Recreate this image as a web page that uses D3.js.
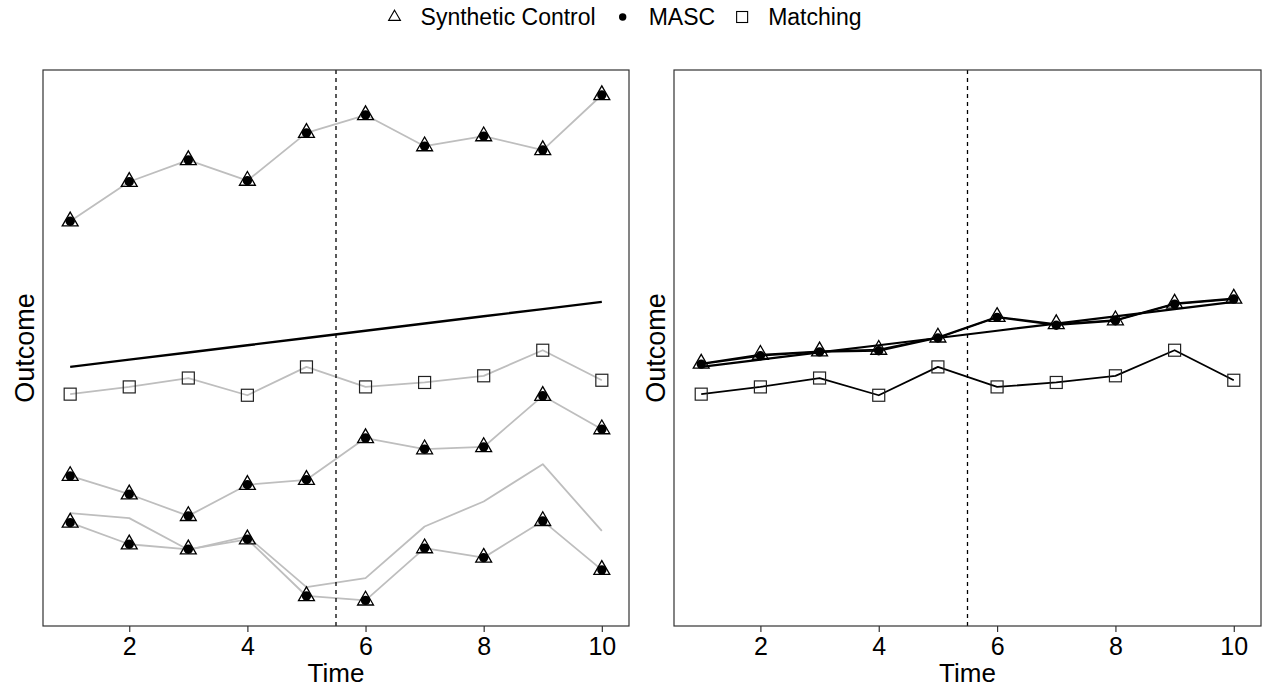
<!DOCTYPE html>
<html>
<head>
<meta charset="utf-8">
<script src="https://cdn.jsdelivr.net/npm/d3@7"></script>
<style>
  body { margin: 0; background: #fff; }
  text { font-family: "Liberation Sans", Arial, sans-serif; fill: #000; }
</style>
</head>
<body>
<svg id="chart" width="1268" height="688"></svg>
<script>
// time points
const times = [1, 2, 3, 4, 5, 6, 7, 8, 9, 10];
const xTicks = [2, 4, 6, 8, 10];
const treatTime = 5.5;

// left panel: treated unit and the control units
const treated = [46.6, 47.9, 49.2, 50.5, 51.8, 53.1, 54.4, 55.7, 57.0, 58.3];
const unitA = [72.8, 79.9, 83.8, 80.1, 88.7, 91.9, 86.3, 88.1, 85.6, 95.5];
const unitB = [27.0, 23.7, 19.8, 25.4, 26.3, 33.8, 31.8, 32.2, 41.4, 35.4];
const unitC = [18.6, 14.7, 13.8, 15.6, 5.4, 4.6, 14.0, 12.3, 18.9, 10.1];
const unitD = [20.3, 19.4, 13.7, 16.1, 7.0, 8.6, 17.9, 22.4, 29.1, 17.1];
const matchUnit = [41.7, 43.0, 44.6, 41.5, 46.6, 43.0, 43.8, 45.0, 49.6, 44.2];

// right panel: estimates
const scEst = [47.2, 48.8, 49.4, 49.7, 51.9, 55.6, 54.3, 55.0, 58.0, 58.9];
const mascEst = [47.1, 48.6, 49.3, 49.5, 51.8, 55.5, 54.1, 54.9, 57.9, 58.8];
const matchEst = matchUnit;

const legendItems = ['Synthetic Control', 'MASC', 'Matching'];

const svg = d3.select('#chart');
const plotTop = 70, plotBottom = 626;
const panels = [{ x0: 43, x1: 629 }, { x0: 674, x1: 1261 }];

const y = d3.scaleLinear().domain([0, 100]).range([plotBottom, plotTop]);

// marker helpers
function triPath(s) {
    const r = 1.5551 * s, w = 1.3468 * s;
    return `M0,${-r}L${w},${r / 2}L${-w},${r / 2}Z`;
}

function addTriangles(g, x, vals, s) {
    g.selectAll(null).data(vals).enter().append('path')
        .attr('d', triPath(s))
        .attr('transform', (d, i) => `translate(${x(times[i])},${y(d)})`)
        .attr('fill', 'none').attr('stroke', '#000').attr('stroke-width', 1.3);
}
function addDots(g, x, vals, r) {
    g.selectAll(null).data(vals).enter().append('circle')
        .attr('cx', (d, i) => x(times[i])).attr('cy', d => y(d))
        .attr('r', r).attr('fill', '#000');
}
function addSquares(g, x, vals, s) {
    g.selectAll(null).data(vals).enter().append('rect')
        .attr('x', (d, i) => x(times[i]) - s / 2).attr('y', d => y(d) - s / 2)
        .attr('width', s).attr('height', s)
        .attr('fill', 'none').attr('stroke', '#222').attr('stroke-width', 1.2);
}
function addLine(g, x, vals, color, width) {
    const line = d3.line().x((d, i) => x(times[i])).y(d => y(d));
    g.append('path').attr('d', line(vals))
        .attr('fill', 'none').attr('stroke', color).attr('stroke-width', width)
        .attr('stroke-linejoin', 'round');
}

panels.forEach((p, k) => {
    const x = d3.scaleLinear().domain([0.54, 10.46]).range([p.x0, p.x1]);
    const g = svg.append('g');

    if (k === 0) {
        [unitA, unitB, unitC, unitD, matchUnit].forEach(u => addLine(g, x, u, '#bebebe', 1.8));
        addLine(g, x, treated, '#000', 2.4);
    } else {
        addLine(g, x, scEst, '#000', 1.8);
        addLine(g, x, mascEst, '#000', 1.8);
        addLine(g, x, matchEst, '#000', 1.8);
        addLine(g, x, treated, '#000', 2.2);
    }

    // treatment time
    g.append('line')
        .attr('x1', x(treatTime)).attr('x2', x(treatTime))
        .attr('y1', plotTop).attr('y2', plotBottom)
        .attr('stroke', '#000').attr('stroke-width', 1.3)
        .attr('stroke-dasharray', '4,4');

    if (k === 0) {
        [unitA, unitB, unitC].forEach(u => { addTriangles(g, x, u, 5.9); addDots(g, x, u, 4.7); });
        addSquares(g, x, matchUnit, 12);
    } else {
        addTriangles(g, x, scEst, 5.9);
        addDots(g, x, mascEst, 4.7);
        addSquares(g, x, matchEst, 12);
    }

    // box
    g.append('rect')
        .attr('x', p.x0).attr('y', plotTop)
        .attr('width', p.x1 - p.x0).attr('height', plotBottom - plotTop)
        .attr('fill', 'none').attr('stroke', '#333').attr('stroke-width', 1.2);

    // x axis
    const ax = g.append('g').attr('transform', `translate(0,${plotBottom})`)
        .call(d3.axisBottom(x).tickValues(xTicks).tickSize(6).tickPadding(5));
    ax.select('.domain').remove();
    ax.selectAll('line').attr('stroke', '#333').attr('stroke-width', 1.2);
    ax.selectAll('text').style('font-size', '25px').attr('font-family', 'Liberation Sans, Arial, sans-serif');

    g.append('text')
        .attr('x', (p.x0 + p.x1) / 2).attr('y', 682)
        .attr('text-anchor', 'middle').style('font-size', '26px')
        .text('Time');

    g.append('text')
        .attr('transform', `translate(${p.x0 - 9},${(plotTop + plotBottom) / 2}) rotate(-90)`)
        .attr('text-anchor', 'middle').style('font-size', '27px')
        .text('Outcome');
});

// legend
const lg = svg.append('g');
let cx = 0;
legendItems.forEach((name, i) => {
    const sym = lg.append('g').attr('transform', `translate(${cx + 8},0)`);
    if (i === 0) sym.append('path').attr('d', triPath(4.4)).attr('fill', 'none').attr('stroke', '#000').attr('stroke-width', 1.1);
    if (i === 1) sym.append('circle').attr('r', 3.7).attr('fill', '#000');
    if (i === 2) sym.append('rect').attr('x', -5.5).attr('y', -5.5).attr('width', 11).attr('height', 11)
        .attr('fill', 'none').attr('stroke', '#000').attr('stroke-width', 1.1);
    const t = lg.append('text').attr('x', cx + 34).attr('y', 8)
        .style('font-size', '23px').text(name);
    cx += 34 + t.node().getComputedTextLength() + 19;
});
const lgW = cx - 19;
lg.attr('transform', `translate(${624 - lgW / 2},17)`);
</script>
</body>
</html>
